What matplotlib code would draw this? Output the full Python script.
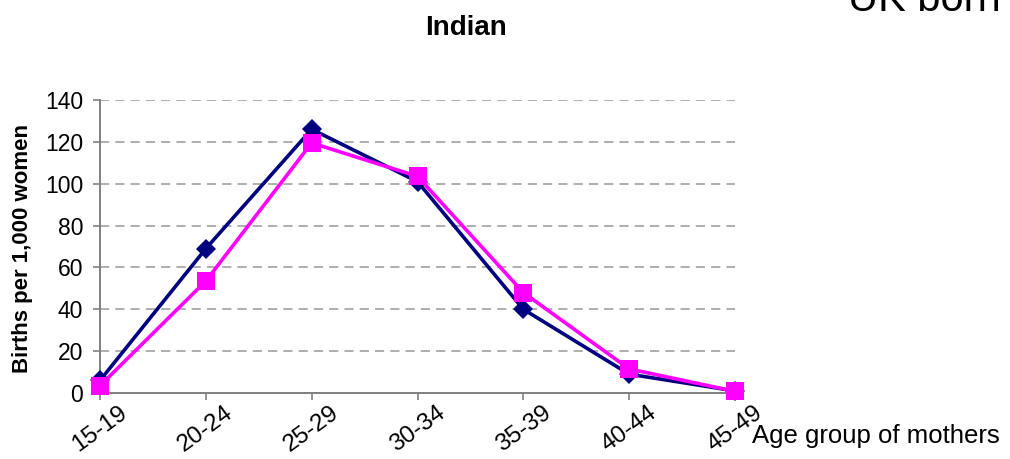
import matplotlib
matplotlib.use('Agg')
import matplotlib.pyplot as plt
from matplotlib.transforms import ScaledTranslation

plt.rcParams['font.family'] = ['Liberation Sans', 'DejaVu Sans']

# Data
age_groups = ['15-19', '20-24', '25-29', '30-34', '35-39', '40-44', '45-49']
series_navy = [6, 69, 126, 101, 40, 9, 1]
series_pink = [3.5, 53.5, 119.5, 103.5, 48, 11.5, 0.8]
y_ticks = [0, 20, 40, 60, 80, 100, 120, 140]

fig = plt.figure(figsize=(10.1, 4.59), dpi=100)
ax = fig.add_axes([100 / 1010, 1 - 393 / 459, 635 / 1010, 293 / 459])

x = list(range(len(age_groups)))
ax.plot(x, series_navy, color='#000080', linewidth=2.6, marker='D', markersize=10,
        markeredgewidth=0, zorder=3, clip_on=False)
ax.plot(x, series_pink, color='#FF00FF', linewidth=2.6, marker='s', markersize=12.5,
        markeredgewidth=0, zorder=4, clip_on=False)

ax.set_xlim(0, len(age_groups) - 1)
ax.set_ylim(0, 140)
ax.set_yticks(y_ticks)
ax.set_xticks(x)
ax.set_xticklabels(age_groups, rotation=36, ha='center', fontsize=17.5)

# shift rotated labels a little left, as in the original
for lbl in ax.get_xticklabels():
    lbl.set_transform(lbl.get_transform() + ScaledTranslation(-8 / 72, 0, fig.dpi_scale_trans))

ax.tick_params(axis='y', labelsize=16.5, length=5, width=1.2, color='#808080', pad=7)
ax.tick_params(axis='x', length=5, width=1.2, color='#808080', pad=1.5)

# Dashed horizontal grid
ax.yaxis.grid(True, color='#999999', linestyle=(0, (6, 4)), linewidth=1.1)
ax.set_axisbelow(True)

for side in ['top', 'right']:
    ax.spines[side].set_visible(False)
for side in ['left', 'bottom']:
    ax.spines[side].set_color('#808080')
    ax.spines[side].set_linewidth(1.4)

ax.set_ylabel('Births per 1,000 women', fontsize=16, fontweight='bold')
ax.yaxis.set_label_coords(-0.105, 0.493)

fig.text(466 / 1010, 1 - 35 / 459, 'Indian', ha='center', va='baseline',
         fontsize=20, fontweight='bold')
fig.text(752 / 1010, 1 - 443 / 459, 'Age group of mothers', ha='left', va='baseline',
         fontsize=18.5)
fig.text(848 / 1010, 1 - 11 / 459, 'UK born', ha='left', va='baseline', fontsize=30)

plt.savefig('out.png', dpi=100)
